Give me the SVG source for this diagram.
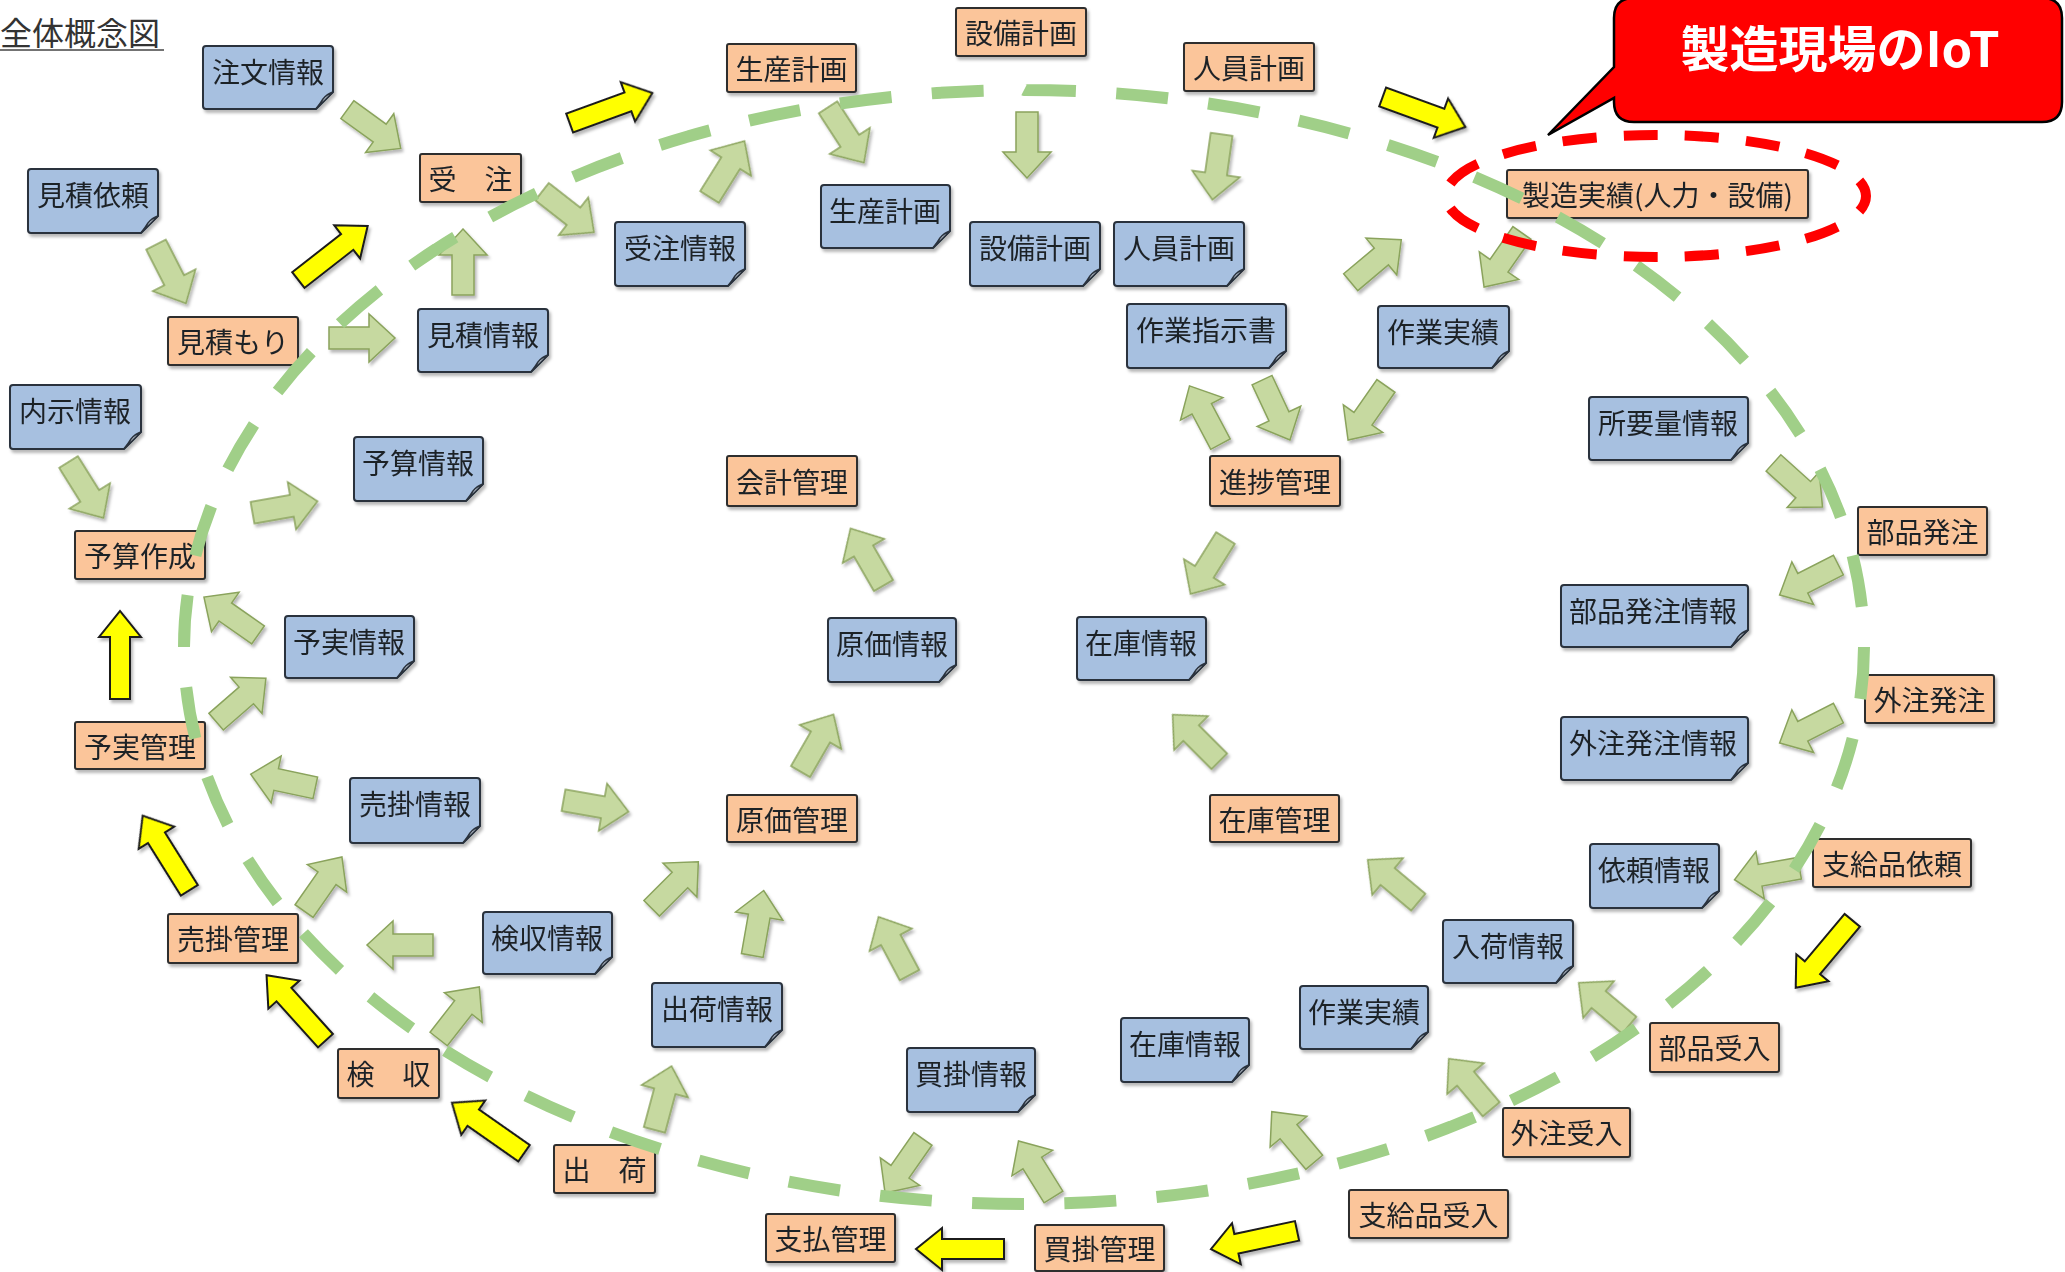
<svg xmlns="http://www.w3.org/2000/svg" xmlns:xlink="http://www.w3.org/1999/xlink" width="2065" height="1272" viewBox="0 0 2065 1272">
  <style>
    text { font-family: "Noto Sans CJK JP", "Noto Sans", sans-serif; }
    .lbl { font-size: 28px; fill: #1e2228; text-anchor: middle; }
    .page { fill: #a7c0e0; stroke: #29323d; stroke-width: 2; }
    .fold { fill: #dbe6f3; stroke: #29323d; stroke-width: 1.5; }
    .box { fill: #fbc59a; stroke: #2e2e2e; stroke-width: 2; }
    .g { fill: #c6d9a0; stroke: #8aa35c; stroke-width: 1.5; }
    .y { fill: #ffff00; stroke: #1a1a1a; stroke-width: 2; }
    .loop { fill: none; stroke: #a0cf88; stroke-width: 12; stroke-dasharray: 52 40.4; }
    .focus { fill: none; stroke: #ff0000; stroke-width: 10; stroke-dasharray: 34 27.1; stroke-dashoffset: 17; }
  </style>
  <defs>
    <filter id="sh" x="-5%" y="-5%" width="110%" height="110%">
      <feDropShadow dx="2" dy="3" stdDeviation="1.5" flood-color="#000" flood-opacity="0.28"/>
    </filter>
    <!-- block arrows pointing right, centred on the origin -->
    <path id="ga" d="M-33,-11 H7 V-24 L33,0 L7,24 V11 H-33 Z"/>
    <path id="ya" d="M-44,-10 H18 V-21 L44,0 L18,21 V10 H-44 Z"/>
  </defs>

  <rect width="2065" height="1272" fill="#ffffff"/>

  <!-- title -->
  <g id="title">
    <text x="0" y="45" font-size="32" fill="#333">全体概念図</text>
    <line x1="0" y1="50" x2="164" y2="50" stroke="#444" stroke-width="1.5"/>
  </g>

  <!-- flow arrows -->
  <g id="connectors" filter="url(#sh)">
    <use href="#ga" class="g" transform="translate(374,129) rotate(36)"/>
    <use href="#ga" class="g" transform="translate(568,212) rotate(38)"/>
    <use href="#ga" class="g" transform="translate(463,262) rotate(-90)"/>
    <use href="#ga" class="g" transform="translate(171,274) rotate(63)"/>
    <use href="#ga" class="g" transform="translate(362,338) rotate(0)"/>
    <use href="#ga" class="g" transform="translate(727,169) rotate(-58)"/>
    <use href="#ga" class="g" transform="translate(846,135) rotate(57)"/>
    <use href="#ga" class="g" transform="translate(1027,145) rotate(90)"/>
    <use href="#ga" class="g" transform="translate(1217,167) rotate(98)"/>
    <use href="#ga" class="g" transform="translate(1376,261) rotate(-40)"/>
    <use href="#ga" class="g" transform="translate(1503,260) rotate(125)"/>
    <use href="#ga" class="g" transform="translate(1205,415) rotate(-118)"/>
    <use href="#ga" class="g" transform="translate(1276,410) rotate(65)"/>
    <use href="#ga" class="g" transform="translate(1367,413) rotate(125)"/>
    <use href="#ga" class="g" transform="translate(1208,566) rotate(122)"/>
    <use href="#ga" class="g" transform="translate(867,557) rotate(-120)"/>
    <use href="#ga" class="g" transform="translate(817,743) rotate(-60)"/>
    <use href="#ga" class="g" transform="translate(1196,738) rotate(-135)"/>
    <use href="#ga" class="g" transform="translate(1798,485) rotate(42)"/>
    <use href="#ga" class="g" transform="translate(1809,580) rotate(153)"/>
    <use href="#ga" class="g" transform="translate(1809,728) rotate(153)"/>
    <use href="#ga" class="g" transform="translate(1767,874) rotate(170)"/>
    <use href="#ga" class="g" transform="translate(1393,881) rotate(-140)"/>
    <use href="#ga" class="g" transform="translate(1604,1004) rotate(-140)"/>
    <use href="#ga" class="g" transform="translate(1470,1084) rotate(-130)"/>
    <use href="#ga" class="g" transform="translate(1293,1137) rotate(-130)"/>
    <use href="#ga" class="g" transform="translate(1036,1169) rotate(-122)"/>
    <use href="#ga" class="g" transform="translate(904,1166) rotate(125)"/>
    <use href="#ga" class="g" transform="translate(894,946) rotate(-118)"/>
    <use href="#ga" class="g" transform="translate(758,923) rotate(-80)"/>
    <use href="#ga" class="g" transform="translate(675,885) rotate(-45)"/>
    <use href="#ga" class="g" transform="translate(663,1098) rotate(-75)"/>
    <use href="#ga" class="g" transform="translate(459,1013) rotate(-52)"/>
    <use href="#ga" class="g" transform="translate(400,945) rotate(180)"/>
    <use href="#ga" class="g" transform="translate(323,884) rotate(-55)"/>
    <use href="#ga" class="g" transform="translate(283,781) rotate(192)"/>
    <use href="#ga" class="g" transform="translate(596,806) rotate(10)"/>
    <use href="#ga" class="g" transform="translate(241,700) rotate(-41)"/>
    <use href="#ga" class="g" transform="translate(231,616) rotate(-145)"/>
    <use href="#ga" class="g" transform="translate(285,507) rotate(-10)"/>
    <use href="#ga" class="g" transform="translate(86,490) rotate(58)"/>

    <use href="#ya" class="y" transform="translate(611,108) rotate(-20)"/>
    <use href="#ya" class="y" transform="translate(333,253) rotate(-38)"/>
    <use href="#ya" class="y" transform="translate(1424,112) rotate(20)"/>
    <use href="#ya" class="y" transform="translate(120,655) rotate(-90)"/>
    <use href="#ya" class="y" transform="translate(166,853) rotate(-122)"/>
    <use href="#ya" class="y" transform="translate(296,1008) rotate(-132)"/>
    <use href="#ya" class="y" transform="translate(488,1128) rotate(-145)"/>
    <use href="#ya" class="y" transform="translate(960,1249) rotate(180)"/>
    <use href="#ya" class="y" transform="translate(1254,1240) rotate(168)"/>
    <use href="#ya" class="y" transform="translate(1824,954) rotate(130)"/>
  </g>

  <g id="nodes" filter="url(#sh)">
    <!-- information documents (page with curled corner) -->
    <g id="n-chumon-joho" transform="translate(203,46)"><path class="page" d="M3,0H127Q130,0 130,3V46L113,63H3Q0,63 0,60V3Q0,0 3,0Z"/><path class="fold" d="M130,46Q124,48 120,53Q117,58 113,63Z"/><text class="lbl" x="65" y="37">注文情報</text></g>
    <g id="n-mitsumori-irai" transform="translate(28,169)"><path class="page" d="M3,0H127Q130,0 130,3V47L113,64H3Q0,64 0,61V3Q0,0 3,0Z"/><path class="fold" d="M130,47Q124,49 120,54Q117,59 113,64Z"/><text class="lbl" x="65" y="37">見積依頼</text></g>
    <g id="n-mitsumori-joho" transform="translate(418,309)"><path class="page" d="M3,0H127Q130,0 130,3V46L113,63H3Q0,63 0,60V3Q0,0 3,0Z"/><path class="fold" d="M130,46Q124,48 120,53Q117,58 113,63Z"/><text class="lbl" x="65" y="37">見積情報</text></g>
    <g id="n-juchu-joho" transform="translate(615,222)"><path class="page" d="M3,0H127Q130,0 130,3V47L113,64H3Q0,64 0,61V3Q0,0 3,0Z"/><path class="fold" d="M130,47Q124,49 120,54Q117,59 113,64Z"/><text class="lbl" x="65" y="37">受注情報</text></g>
    <g id="n-seisan-keikaku-joho" transform="translate(821,185)"><path class="page" d="M3,0H126Q129,0 129,3V46L112,63H3Q0,63 0,60V3Q0,0 3,0Z"/><path class="fold" d="M129,46Q123,48 119,53Q116,58 112,63Z"/><text class="lbl" x="64" y="37">生産計画</text></g>
    <g id="n-setsubi-keikaku-joho" transform="translate(970,222)"><path class="page" d="M3,0H127Q130,0 130,3V47L113,64H3Q0,64 0,61V3Q0,0 3,0Z"/><path class="fold" d="M130,47Q124,49 120,54Q117,59 113,64Z"/><text class="lbl" x="65" y="37">設備計画</text></g>
    <g id="n-jinin-keikaku-joho" transform="translate(1114,222)"><path class="page" d="M3,0H127Q130,0 130,3V47L113,64H3Q0,64 0,61V3Q0,0 3,0Z"/><path class="fold" d="M130,47Q124,49 120,54Q117,59 113,64Z"/><text class="lbl" x="65" y="37">人員計画</text></g>
    <g id="n-sagyo-shiji" transform="translate(1127,304)"><path class="page" d="M3,0H156Q159,0 159,3V47L142,64H3Q0,64 0,61V3Q0,0 3,0Z"/><path class="fold" d="M159,47Q153,49 149,54Q146,59 142,64Z"/><text class="lbl" x="79" y="37">作業指示書</text></g>
    <g id="n-sagyo-jisseki-1" transform="translate(1378,306)"><path class="page" d="M3,0H128Q131,0 131,3V45L114,62H3Q0,62 0,59V3Q0,0 3,0Z"/><path class="fold" d="M131,45Q125,47 121,52Q118,57 114,62Z"/><text class="lbl" x="65" y="37">作業実績</text></g>
    <g id="n-shoyoryo-joho" transform="translate(1589,397)"><path class="page" d="M3,0H156Q159,0 159,3V46L142,63H3Q0,63 0,60V3Q0,0 3,0Z"/><path class="fold" d="M159,46Q153,48 149,53Q146,58 142,63Z"/><text class="lbl" x="79" y="37">所要量情報</text></g>
    <g id="n-naiji-joho" transform="translate(10,385)"><path class="page" d="M3,0H128Q131,0 131,3V47L114,64H3Q0,64 0,61V3Q0,0 3,0Z"/><path class="fold" d="M131,47Q125,49 121,54Q118,59 114,64Z"/><text class="lbl" x="65" y="37">内示情報</text></g>
    <g id="n-yosan-joho" transform="translate(354,437)"><path class="page" d="M3,0H126Q129,0 129,3V47L112,64H3Q0,64 0,61V3Q0,0 3,0Z"/><path class="fold" d="M129,47Q123,49 119,54Q116,59 112,64Z"/><text class="lbl" x="64" y="37">予算情報</text></g>
    <g id="n-yojitsu-joho" transform="translate(285,616)"><path class="page" d="M3,0H126Q129,0 129,3V45L112,62H3Q0,62 0,59V3Q0,0 3,0Z"/><path class="fold" d="M129,45Q123,47 119,52Q116,57 112,62Z"/><text class="lbl" x="64" y="37">予実情報</text></g>
    <g id="n-genka-joho" transform="translate(828,618)"><path class="page" d="M3,0H125Q128,0 128,3V47L111,64H3Q0,64 0,61V3Q0,0 3,0Z"/><path class="fold" d="M128,47Q122,49 118,54Q115,59 111,64Z"/><text class="lbl" x="64" y="37">原価情報</text></g>
    <g id="n-zaiko-joho-1" transform="translate(1077,617)"><path class="page" d="M3,0H126Q129,0 129,3V46L112,63H3Q0,63 0,60V3Q0,0 3,0Z"/><path class="fold" d="M129,46Q123,48 119,53Q116,58 112,63Z"/><text class="lbl" x="64" y="37">在庫情報</text></g>
    <g id="n-buhin-hatchu-joho" transform="translate(1561,585)"><path class="page" d="M3,0H184Q187,0 187,3V45L170,62H3Q0,62 0,59V3Q0,0 3,0Z"/><path class="fold" d="M187,45Q181,47 177,52Q174,57 170,62Z"/><text class="lbl" x="92" y="37">部品発注情報</text></g>
    <g id="n-gaichu-hatchu-joho" transform="translate(1561,717)"><path class="page" d="M3,0H184Q187,0 187,3V46L170,63H3Q0,63 0,60V3Q0,0 3,0Z"/><path class="fold" d="M187,46Q181,48 177,53Q174,58 170,63Z"/><text class="lbl" x="92" y="37">外注発注情報</text></g>
    <g id="n-urikake-joho" transform="translate(350,778)"><path class="page" d="M3,0H127Q130,0 130,3V48L113,65H3Q0,65 0,62V3Q0,0 3,0Z"/><path class="fold" d="M130,48Q124,50 120,55Q117,60 113,65Z"/><text class="lbl" x="65" y="37">売掛情報</text></g>
    <g id="n-irai-joho" transform="translate(1590,844)"><path class="page" d="M3,0H126Q129,0 129,3V47L112,64H3Q0,64 0,61V3Q0,0 3,0Z"/><path class="fold" d="M129,47Q123,49 119,54Q116,59 112,64Z"/><text class="lbl" x="64" y="37">依頼情報</text></g>
    <g id="n-kenshu-joho" transform="translate(483,912)"><path class="page" d="M3,0H126Q129,0 129,3V45L112,62H3Q0,62 0,59V3Q0,0 3,0Z"/><path class="fold" d="M129,45Q123,47 119,52Q116,57 112,62Z"/><text class="lbl" x="64" y="37">検収情報</text></g>
    <g id="n-nyuka-joho" transform="translate(1443,920)"><path class="page" d="M3,0H127Q130,0 130,3V46L113,63H3Q0,63 0,60V3Q0,0 3,0Z"/><path class="fold" d="M130,46Q124,48 120,53Q117,58 113,63Z"/><text class="lbl" x="65" y="37">入荷情報</text></g>
    <g id="n-shukka-joho" transform="translate(652,983)"><path class="page" d="M3,0H127Q130,0 130,3V47L113,64H3Q0,64 0,61V3Q0,0 3,0Z"/><path class="fold" d="M130,47Q124,49 120,54Q117,59 113,64Z"/><text class="lbl" x="65" y="37">出荷情報</text></g>
    <g id="n-sagyo-jisseki-2" transform="translate(1300,986)"><path class="page" d="M3,0H125Q128,0 128,3V46L111,63H3Q0,63 0,60V3Q0,0 3,0Z"/><path class="fold" d="M128,46Q122,48 118,53Q115,58 111,63Z"/><text class="lbl" x="64" y="37">作業実績</text></g>
    <g id="n-zaiko-joho-2" transform="translate(1121,1018)"><path class="page" d="M3,0H125Q128,0 128,3V47L111,64H3Q0,64 0,61V3Q0,0 3,0Z"/><path class="fold" d="M128,47Q122,49 118,54Q115,59 111,64Z"/><text class="lbl" x="64" y="37">在庫情報</text></g>
    <g id="n-kaikake-joho" transform="translate(907,1048)"><path class="page" d="M3,0H125Q128,0 128,3V47L111,64H3Q0,64 0,61V3Q0,0 3,0Z"/><path class="fold" d="M128,47Q122,49 118,54Q115,59 111,64Z"/><text class="lbl" x="64" y="37">買掛情報</text></g>

    <!-- business processes -->
    <g id="n-juchu" transform="translate(420,154)"><rect class="box" width="101" height="48" rx="2"/><text class="lbl" x="50.5" y="36">受　注</text></g>
    <g id="n-mitsumori" transform="translate(168,317)"><rect class="box" width="130" height="48" rx="2"/><text class="lbl" x="65" y="36">見積もり</text></g>
    <g id="n-seisan-keikaku" transform="translate(727,44)"><rect class="box" width="129" height="48" rx="2"/><text class="lbl" x="64.5" y="36">生産計画</text></g>
    <g id="n-setsubi-keikaku" transform="translate(956,8)"><rect class="box" width="130" height="48" rx="2"/><text class="lbl" x="65" y="36">設備計画</text></g>
    <g id="n-jinin-keikaku" transform="translate(1184,43)"><rect class="box" width="130" height="48" rx="2"/><text class="lbl" x="65" y="36">人員計画</text></g>
    <g id="n-seizo-jisseki" transform="translate(1507,170)"><rect class="box" width="301" height="48" rx="2"/><text class="lbl" x="150.5" y="36">製造実績(人力・設備)</text></g>
    <g id="n-yosan-sakusei" transform="translate(75,531)"><rect class="box" width="130" height="48" rx="2"/><text class="lbl" x="65" y="36">予算作成</text></g>
    <g id="n-yojitsu-kanri" transform="translate(75,722)"><rect class="box" width="130" height="47" rx="2"/><text class="lbl" x="65" y="36">予実管理</text></g>
    <g id="n-kaikei-kanri" transform="translate(727,456)"><rect class="box" width="130" height="50" rx="2"/><text class="lbl" x="65" y="37">会計管理</text></g>
    <g id="n-shinchoku-kanri" transform="translate(1210,456)"><rect class="box" width="130" height="50" rx="2"/><text class="lbl" x="65" y="37">進捗管理</text></g>
    <g id="n-buhin-hatchu" transform="translate(1858,507)"><rect class="box" width="129" height="48" rx="2"/><text class="lbl" x="64.5" y="36">部品発注</text></g>
    <g id="n-gaichu-hatchu" transform="translate(1865,675)"><rect class="box" width="129" height="48" rx="2"/><text class="lbl" x="64.5" y="36">外注発注</text></g>
    <g id="n-genka-kanri" transform="translate(727,795)"><rect class="box" width="130" height="47" rx="2"/><text class="lbl" x="65" y="36">原価管理</text></g>
    <g id="n-zaiko-kanri" transform="translate(1210,795)"><rect class="box" width="129" height="47" rx="2"/><text class="lbl" x="64.5" y="36">在庫管理</text></g>
    <g id="n-shikyu-irai" transform="translate(1813,839)"><rect class="box" width="158" height="48" rx="2"/><text class="lbl" x="79" y="36">支給品依頼</text></g>
    <g id="n-urikake-kanri" transform="translate(168,914)"><rect class="box" width="130" height="49" rx="2"/><text class="lbl" x="65" y="36">売掛管理</text></g>
    <g id="n-kenshu" transform="translate(338,1049)"><rect class="box" width="101" height="49" rx="2"/><text class="lbl" x="50.5" y="36">検　収</text></g>
    <g id="n-shukka" transform="translate(554,1145)"><rect class="box" width="101" height="48" rx="2"/><text class="lbl" x="50.5" y="36">出　荷</text></g>
    <g id="n-buhin-ukeire" transform="translate(1650,1023)"><rect class="box" width="129" height="49" rx="2"/><text class="lbl" x="64.5" y="36">部品受入</text></g>
    <g id="n-gaichu-ukeire" transform="translate(1503,1108)"><rect class="box" width="127" height="49" rx="2"/><text class="lbl" x="63.5" y="36">外注受入</text></g>
    <g id="n-shikyu-ukeire" transform="translate(1349,1190)"><rect class="box" width="159" height="48" rx="2"/><text class="lbl" x="79.5" y="36">支給品受入</text></g>
    <g id="n-shiharai-kanri" transform="translate(766,1214)"><rect class="box" width="129" height="48" rx="2"/><text class="lbl" x="64.5" y="36">支払管理</text></g>
    <g id="n-kaikake-kanri" transform="translate(1035,1225)"><rect class="box" width="129" height="46" rx="2"/><text class="lbl" x="64.5" y="35">買掛管理</text></g>
  </g>

  <!-- overall business cycle and the highlighted shop-floor record -->
  <g id="cycle">
    <ellipse class="loop" cx="1024" cy="647" rx="840" ry="557" pathLength="4435.2"/>
    <ellipse class="focus" cx="1656" cy="196" rx="210" ry="61" pathLength="916.5"/>
  </g>

  <!-- callout -->
  <g id="callout">
    <path d="M1634,-2 H2042 Q2062,-2 2062,18 V102 Q2062,122 2042,122 H1634 Q1614,122 1614,102 V98 L1548,135 L1614,67 V18 Q1614,-2 1634,-2 Z" fill="#ff0000" stroke="#000" stroke-width="2.5" stroke-linejoin="miter"/>
    <text x="1840" y="67" font-size="49" font-weight="bold" fill="#ffffff" text-anchor="middle">製造現場のIoT</text>
  </g>
</svg>
